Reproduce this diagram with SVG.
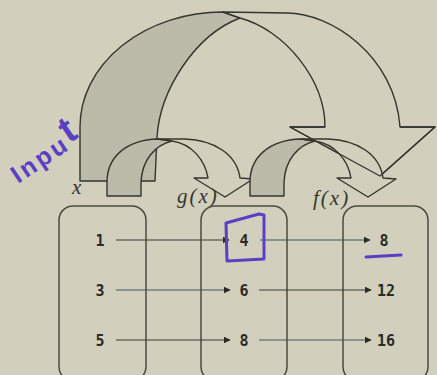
<svg xmlns="http://www.w3.org/2000/svg" width="437" height="375" viewBox="0 0 437 375">
<defs>
<style>
.bg{fill:#d2d0bc}
.edge{stroke:#35352f;stroke-width:1.4;stroke-linejoin:round;fill:none}
.shade{fill:#bcbaa9;stroke:#35352f;stroke-width:1.4;stroke-linejoin:round}
.face{fill:#d2d0bc;stroke:#35352f;stroke-width:1.4;stroke-linejoin:round}
.box{fill:none;stroke:#4a4a42;stroke-width:1.5}
.num{font-family:"DejaVu Sans Mono","Liberation Mono",monospace;font-weight:bold;font-size:15px;fill:#2a2a26;text-anchor:middle}
.lbl{font-family:"Liberation Serif","DejaVu Serif",serif;font-style:italic;font-size:21px;fill:#35352f}
.conn{stroke:#3a3a36;stroke-width:1.2;fill:none}
.blue{stroke:#3f5566}
.ink{stroke:#5a3fc4;stroke-width:3;fill:none;stroke-linecap:round;stroke-linejoin:round}
</style>
<marker id="ah" viewBox="0 0 10 10" refX="9" refY="5" markerWidth="7" markerHeight="7" markerUnits="userSpaceOnUse" orient="auto">
<path d="M0,0 L10,5 L0,10 Z" fill="#2a2a26"/>
</marker>
</defs>
<rect class="bg" x="0" y="0" width="437" height="375"/>

<g id="big-arc">
<path class="shade" d="M80,181 L80,127 A143,115 0 0 1 223,12 L240,18 C195,35 160,90 157,137 L155,181 Z"/>
<path class="face" d="M223,12 L287,13 C330,13 395,55 400,127 L435,127 L380,176 L290,127 L325,127 C325,80 285,30 240,18 Z"/>
</g>

<g id="small-arc-1">
<path class="shade" d="M107,196 L107,182 C107,158 125,140 158,139 L172,141 C155,145 142,160 141,182 L141,196 Z"/>
<path class="face" d="M158,139 L185,139 C215,140 237,155 240,178 L253,179 L225,197 L194,178 L208,178 C205,160 192,144 172,141 Z"/>
</g>

<g id="small-arc-2" transform="translate(143,0)">
<path class="shade" d="M107,196 L107,182 C107,158 125,140 158,139 L172,141 C155,145 142,160 141,182 L141,196 Z"/>
<path class="face" d="M158,139 L185,139 C215,140 237,155 240,178 L253,179 L225,197 L194,178 L208,178 C205,160 192,144 172,141 Z"/>
</g>

<path class="edge" d="M325,127 L290,127 L380,176 L435,127 L400,127"/>

<g id="label-x"><text class="lbl" x="72" y="194">x</text></g>
<g id="label-gx"><text class="lbl" x="177" y="203" letter-spacing="2">g(x)</text></g>
<g id="label-fx"><text class="lbl" x="313" y="205" letter-spacing="2">f(x)</text></g>

<g id="set-x">
<rect class="box" x="59" y="206" width="87" height="175" rx="14"/>
<text class="num" x="100" y="246">1</text>
<text class="num" x="100" y="296">3</text>
<text class="num" x="100" y="346">5</text>
</g>
<g id="set-gx">
<rect class="box" x="201" y="206" width="86" height="175" rx="14"/>
<text class="num" x="244" y="246">4</text>
<text class="num" x="244" y="296">6</text>
<text class="num" x="244" y="346">8</text>
</g>
<g id="set-fx">
<rect class="box" x="343" y="206" width="85" height="175" rx="14"/>
<text class="num" x="384" y="246">8</text>
<text class="num" x="386" y="296">12</text>
<text class="num" x="386" y="346">16</text>
</g>

<g id="connectors">
<line class="conn" x1="116" y1="240" x2="229" y2="240" marker-end="url(#ah)"/>
<line class="conn blue" x1="260" y1="240" x2="370" y2="240" marker-end="url(#ah)"/>
<line class="conn blue" x1="116" y1="290" x2="230" y2="290" marker-end="url(#ah)"/>
<line class="conn" x1="259" y1="290" x2="371" y2="290" marker-end="url(#ah)"/>
<line class="conn" x1="116" y1="340" x2="230" y2="340" marker-end="url(#ah)"/>
<line class="conn blue" x1="259" y1="340" x2="371" y2="340" marker-end="url(#ah)"/>
</g>

<g id="annotations">
<path class="ink" d="M226,223 L259,214 L264,215 L264,259 L227,261 Z"/>
<path class="ink" d="M366,257 L401,255"/>
<text x="18" y="184" transform="rotate(-34 18 184)" font-family="'Liberation Sans','DejaVu Sans',sans-serif" font-size="25" font-weight="bold" fill="#5a3fc4" letter-spacing="3">Inpu<tspan font-size="38" dx="0" dy="-5">t</tspan></text>
</g>
</svg>
